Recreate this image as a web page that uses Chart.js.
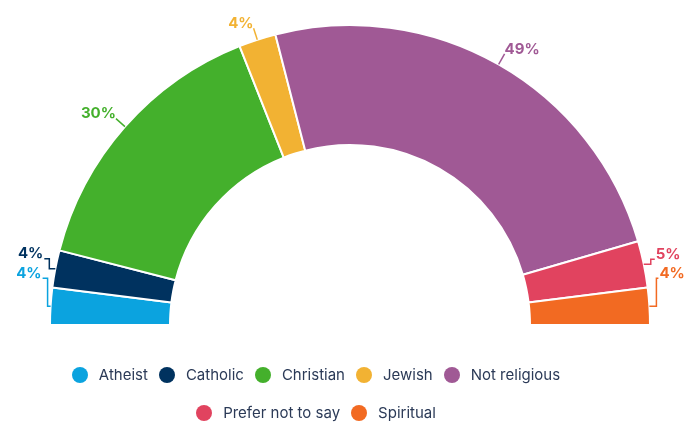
<!DOCTYPE html>
<html>
<head>
<meta charset="utf-8">
<script src="https://cdn.jsdelivr.net/npm/chart.js@4"></script>
<style>
  html, body { margin: 0; padding: 0; background: #fff; overflow: hidden; }
  .wrap { position: relative; width: 700px; height: 436px; }
  #legend {
    position: absolute; top: 362px; left: 36px; width: 560px;
    margin: 0; padding: 0; list-style: none;
    display: flex; flex-wrap: wrap; justify-content: center;
    column-gap: 11px; row-gap: 12px;
    font-family: Inter, sans-serif; font-size: 15px; line-height: 26px; color: #2b3a57;
  }
  #legend li { display: flex; align-items: center; }
  #legend .dot { width: 16px; height: 16px; border-radius: 50%; margin-right: 11px; }
</style>
</head>
<body>
<div class="wrap">
  <canvas id="chart"></canvas>
  <ul id="legend"></ul>
</div>
<script>
const categories = ['Atheist', 'Catholic', 'Christian', 'Jewish', 'Not religious', 'Prefer not to say', 'Spiritual'];
const shares = [4, 4, 30, 4, 49, 5, 4];
const colors = ['#0ba3df', '#00325f', '#44b02c', '#f2b233', '#a05995', '#e1435f', '#f26a22'];

// how each percentage label is tied to its slice
const leaders = [
    { type: 'elbow', dx: 3, rise: 28, tail: 5 },
    { type: 'elbow', dx: 6, rise: 10, tail: 5 },
    { type: 'radial', len: 12 },
    { type: 'radial', len: 12 },
    { type: 'radial', len: 12 },
    { type: 'elbow', dx: 7, rise: 5, tail: 4 },
    { type: 'elbow', dx: 7, rise: 28, tail: 2 }
];

const sliceLabels = {
    id: 'sliceLabels',
    afterDatasetsDraw(chart) {
        const ctx = chart.ctx;
        const meta = chart.getDatasetMeta(0);
        ctx.save();
        ctx.font = "700 15px Inter, sans-serif";
        ctx.lineWidth = 1.5;
        meta.data.forEach((arc, i) => {
            const { x, y, startAngle, endAngle, outerRadius } = arc.getProps(['x', 'y', 'startAngle', 'endAngle', 'outerRadius'], true);
            const mid = (startAngle + endAngle) / 2;
            const px = x + Math.cos(mid) * outerRadius;
            const py = y + Math.sin(mid) * outerRadius;
            const side = Math.cos(mid) < 0 ? -1 : 1;
            const cfg = leaders[i];
            const text = shares[i] + '%';
            ctx.strokeStyle = colors[i];
            ctx.fillStyle = colors[i];
            ctx.textAlign = side < 0 ? 'right' : 'left';
            ctx.textBaseline = 'middle';
            ctx.beginPath();
            let tx, ty;
            if (cfg.type === 'radial') {
                const ex = px + Math.cos(mid) * cfg.len;
                const ey = py + Math.sin(mid) * cfg.len;
                ctx.moveTo(px, py);
                ctx.lineTo(ex, ey);
                tx = ex;
                ty = ey - 5;
            } else {
                const vx = px + side * cfg.dx;
                const topY = py - cfg.rise;
                ctx.moveTo(px, py);
                ctx.lineTo(vx, py);
                ctx.lineTo(vx, topY);
                ctx.lineTo(vx + side * cfg.tail, topY);
                tx = vx + side * (cfg.tail + 1);
                ty = topY - 5;
            }
            ctx.stroke();
            ctx.fillText(text, tx, ty);
        });
        ctx.restore();
    }
};

const htmlLegend = {
    id: 'htmlLegend',
    afterUpdate(chart) {
        const ul = document.getElementById('legend');
        ul.innerHTML = '';
        const items = chart.options.plugins.legend.labels.generateLabels(chart);
        items.forEach(item => {
            const li = document.createElement('li');
            const dot = document.createElement('span');
            dot.className = 'dot';
            dot.style.background = item.fillStyle;
            li.appendChild(dot);
            li.appendChild(document.createTextNode(item.text));
            ul.appendChild(li);
        });
    }
};

new Chart(document.getElementById('chart'), {
    type: 'doughnut',
    data: {
        labels: categories,
        datasets: [{
            data: shares,
            backgroundColor: colors,
            borderColor: '#ffffff',
            borderWidth: 2
        }]
    },
    options: {
        responsive: true,
        maintainAspectRatio: false,
        animation: false,
        rotation: -90,
        circumference: 180,
        cutout: '60%',
        layout: {
            padding: { top: 24, left: 49, right: 49, bottom: 110 }
        },
        plugins: {
            legend: { display: false },
            tooltip: { enabled: false }
        }
    },
    plugins: [sliceLabels, htmlLegend]
});
</script>
</body>
</html>
